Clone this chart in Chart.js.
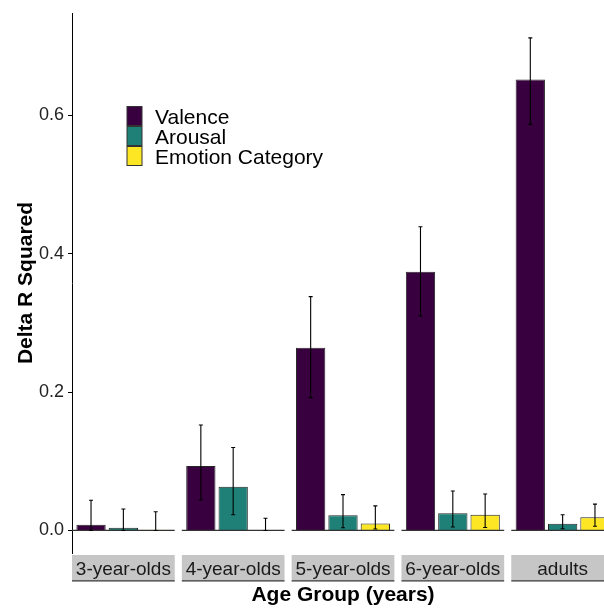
<!DOCTYPE html>
<html>
<head>
<meta charset="utf-8">
<script src="https://cdn.jsdelivr.net/npm/chart.js@4/dist/chart.umd.min.js"></script>
<style>
  html, body { margin: 0; padding: 0; background: #fff; overflow: hidden; width: 604px; height: 608px; }
  canvas { display: block; }
</style>
</head>
<body>
<canvas id="chart" width="614" height="608"></canvas>
<script>
// Daten
const groups = ["3-year-olds", "4-year-olds", "5-year-olds", "6-year-olds", "adults"];
const seriesNames = ["Valence", "Arousal", "Emotion Category"];
const seriesColors = ["#39003f", "#1f8078", "#fde725"];

const valence   = [0.0082, 0.093, 0.264, 0.374, 0.652];
const valenceLo = [0,      0.044, 0.192, 0.310, 0.587];
const valenceHi = [0.0436, 0.1525, 0.338, 0.439, 0.712];

const arousal   = [0.0039, 0.063, 0.022, 0.025, 0.0096];
const arousalLo = [0,      0.0226, 0.0039, 0.005, 0.0024];
const arousalHi = [0.031,  0.120, 0.0518, 0.057, 0.0226];

const emotion   = [0.001, 0,      0.010, 0.0226, 0.019];
const emotionLo = [0,     0,      0.002, 0.0043, 0.006];
const emotionHi = [0.027, 0.0177, 0.0355, 0.0527, 0.038];

const yTicks = [0, 0.2, 0.4, 0.6];

const FONT = "'Liberation Sans', Arial, sans-serif";
const panelHalf = 0.4677;

function series(i, values, lo, hi) {
  return {
    label: seriesNames[i],
    data: values.map((v, k) => ({ x: k, y: v })),
    errLo: lo,
    errHi: hi,
    backgroundColor: seriesColors[i],
    borderColor: "#262626",
    borderWidth: 1,
    categoryPercentage: 0.8834,
    barPercentage: 0.906
  };
}

// Facetten: Nulllinie, Fehlerbalken, Streifen, Legende
const facetPlugin = {
  id: "facets",
  afterDatasetsDraw(chart) {
    const { ctx, scales: { x, y } } = chart;
    const y0 = y.getPixelForValue(0);
    ctx.save();
    ctx.strokeStyle = "#333333";
    ctx.lineWidth = 1.2;
    groups.forEach((g, i) => {
      ctx.beginPath();
      ctx.moveTo(x.getPixelForValue(i - panelHalf), y0);
      ctx.lineTo(x.getPixelForValue(i + panelHalf), y0);
      ctx.stroke();
    });
    ctx.strokeStyle = "#000";
    ctx.lineWidth = 1.1;
    chart.data.datasets.forEach((ds, di) => {
      chart.getDatasetMeta(di).data.forEach((bar, i) => {
        const top = y.getPixelForValue(ds.errHi[i]);
        const bot = y.getPixelForValue(ds.errLo[i]);
        ctx.beginPath();
        ctx.moveTo(bar.x, top); ctx.lineTo(bar.x, bot);
        ctx.moveTo(bar.x - 2, top); ctx.lineTo(bar.x + 2, top);
        ctx.moveTo(bar.x - 2, bot); ctx.lineTo(bar.x + 2, bot);
        ctx.stroke();
      });
    });
    ctx.restore();
  },
  afterDraw(chart) {
    const { ctx, scales: { x } } = chart;
    ctx.save();
    groups.forEach((g, i) => {
      const l = x.getPixelForValue(i - panelHalf);
      const r = x.getPixelForValue(i + panelHalf);
      ctx.fillStyle = "#c6c6c6";
      ctx.fillRect(l, 555, r - l, 25.5);
      ctx.strokeStyle = "#333333";
      ctx.lineWidth = 1.2;
      ctx.beginPath(); ctx.moveTo(l, 580.8); ctx.lineTo(r, 580.8); ctx.stroke();
      ctx.fillStyle = "#1a1a1a";
      ctx.font = "19px " + FONT;
      ctx.textAlign = "center";
      ctx.textBaseline = "alphabetic";
      ctx.fillText(g, (l + r) / 2, 575.3);
    });
    // Legende
    chart.data.datasets.forEach((ds, i) => {
      const top = 106.5 + 20 * i;
      ctx.fillStyle = ds.backgroundColor;
      ctx.fillRect(127, top, 15, 19);
      ctx.strokeStyle = "#333333";
      ctx.lineWidth = 1;
      ctx.strokeRect(127, top, 15, 19);
      ctx.fillStyle = "#000";
      ctx.font = "21px " + FONT;
      ctx.textAlign = "left";
      ctx.textBaseline = "alphabetic";
      ctx.fillText(ds.label, 155, top + 17.8);
    });
    ctx.restore();
  }
};

new Chart(document.getElementById("chart"), {
  type: "bar",
  data: {
    datasets: [
      series(0, valence, valenceLo, valenceHi),
      series(1, arousal, arousalLo, arousalHi),
      series(2, emotion, emotionLo, emotionHi)
    ]
  },
  options: {
    responsive: false,
    animation: false,
    layout: { padding: { top: 10, left: 0, right: 0, bottom: 0 } },
    plugins: { legend: { display: false }, tooltip: { enabled: false } },
    scales: {
      x: {
        type: "linear",
        offset: false,
        min: -panelHalf,
        max: 4 + panelHalf,
        afterBuildTicks: s => { s.ticks = groups.map((g, i) => ({ value: i })); },
        ticks: { display: false },
        grid: { display: false },
        border: { display: false },
        title: {
          display: true,
          text: "Age Group (years)",
          color: "#000",
          font: { family: FONT, size: 21, weight: "bold", lineHeight: 1.2 },
          padding: { top: 0, bottom: 0 }
        },
        afterFit: s => { s.height = 55; }
      },
      y: {
        min: -0.0326,
        max: 0.748,
        afterBuildTicks: s => { s.ticks = yTicks.map(v => ({ value: v })); },
        ticks: {
          color: "#222222",
          padding: 4,
          font: { family: FONT, size: 18, lineHeight: 1 },
          callback: v => v.toFixed(1)
        },
        grid: { drawOnChartArea: false, drawTicks: true, tickLength: 4, color: "#000", lineWidth: 1 },
        border: { display: true, color: "#000", width: 1 },
        title: {
          display: true,
          text: "Delta R Squared",
          color: "#000",
          font: { family: FONT, size: 21, weight: "bold", lineHeight: 1.2 },
          padding: { top: 13.5, bottom: 0 }
        },
        afterFit: s => { s.width = 72; }
      }
    }
  },
  plugins: [facetPlugin]
});
</script>
</body>
</html>
